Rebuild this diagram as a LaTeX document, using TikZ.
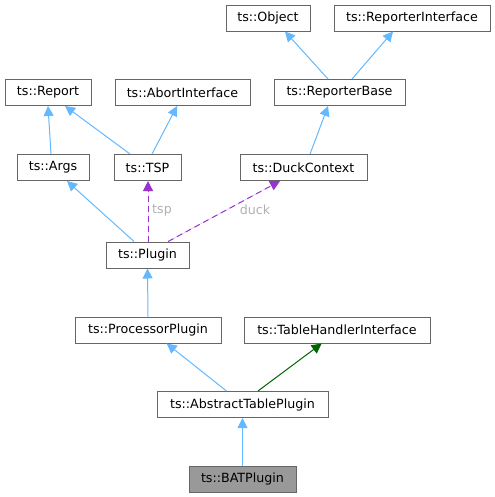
\documentclass[tikz,border=0pt]{standalone}
\usepackage{fontspec}
\setmainfont{DejaVu Sans}
\usepackage{xcolor}
\usetikzlibrary{arrows.meta}
\definecolor{edgeblue}{HTML}{63B8FF}
\definecolor{edgepurple}{HTML}{9A32CD}
\definecolor{edgegreen}{HTML}{006400}
\definecolor{boxgrey}{HTML}{666666}
\definecolor{labelgrey}{HTML}{B0B0B0}
\tikzset{
    cls/.style={draw=boxgrey, line width=0.75pt, fill=white, inner sep=0pt, minimum height=19.5pt, font=\fontsize{9.5}{11}\selectfont},
    current/.style={cls, fill=black!40},
    inherit/.style={-{Triangle[length=7.5pt, width=7.5pt]}, line width=0.75pt, edgeblue},
    privinherit/.style={inherit, edgegreen},
    uses/.style={-{Triangle[length=7.5pt, width=7.5pt]}, line width=0.75pt, draw=edgepurple, fill=edgepurple, dash pattern=on 4.5pt off 3pt},
    edgelabel/.style={font=\fontsize{9.5}{11}\selectfont, text=labelgrey}
}

\begin{document}
\begin{tikzpicture}[x=0.75pt, y=-0.75pt]
\useasboundingbox (0,0) rectangle (495,497);

% Top row
\node[cls, minimum width=63pt] (obj) at (268,18) {ts::Object};
\node[cls, minimum width=117pt] (rint) at (412,18) {ts::ReporterInterface};

% Second row
\node[cls, minimum width=64.5pt] (report) at (48,92.5) {ts::Report};
\node[cls, minimum width=101.25pt] (abort) at (182.5,92.5) {ts::AbortInterface};
\node[cls, minimum width=98.25pt] (rbase) at (339.5,92.5) {ts::ReporterBase};

% Third row
\node[cls, minimum width=54pt] (args) at (53,167.5) {ts::Args};
\node[cls, minimum width=50.25pt] (tsp) at (147.5,167.5) {ts::TSP};
\node[cls, minimum width=95.25pt] (duck) at (303.5,167.5) {ts::DuckContext};

% Plugin chain
\node[cls, minimum width=62.25pt] (plugin) at (147.5,255) {ts::Plugin};
\node[cls, minimum width=109.5pt] (proc) at (148,330) {ts::ProcessorPlugin};
\node[cls, minimum width=139.5pt] (thi) at (337,330) {ts::TableHandlerInterface};
\node[cls, minimum width=128.25pt] (atp) at (242.5,404.5) {ts::AbstractTablePlugin};
\node[current, minimum width=80.25pt] (bat) at (242.5,479) {ts::BATPlugin};

% Inheritance edges
\draw[inherit] ([xshift=-8.6pt]rbase.north) -- ([xshift=12.75pt]obj.south);
\draw[inherit] ([xshift=9.4pt]rbase.north) -- ([xshift=-14.25pt]rint.south);
\draw[inherit] ([xshift=-1.5pt]args.north) -- (report.south);
\draw[inherit] ([xshift=-13.1pt]tsp.north) -- ([xshift=12.75pt]report.south);
\draw[inherit] ([xshift=3.4pt]tsp.north) -- ([xshift=-4.1pt]abort.south);
\draw[inherit] ([xshift=4.9pt]duck.north) -- ([xshift=-8.6pt]rbase.south);
\draw[inherit] ([xshift=-10.1pt]plugin.north) -- ([xshift=10.5pt]args.south);
\draw[inherit] (proc.north) -- (plugin.south);
\draw[inherit] ([xshift=-12pt]atp.north) -- ([xshift=14pt]proc.south);
\draw[privinherit] ([xshift=11.6pt]atp.north) -- ([xshift=-11.5pt]thi.south);
\draw[inherit] (bat.north) -- (atp.south);

% Usage edges
\draw[uses] ([xshift=0.4pt]plugin.north) -- ([xshift=0.4pt]tsp.south);
\draw[uses] ([xshift=15.4pt]plugin.north) -- ([xshift=-17.6pt]duck.south);
\node[edgelabel] (tsplabel) at (162,210) {tsp};
\node[edgelabel] (ducklabel) at (255,210) {duck};
\end{tikzpicture}
\end{document}
